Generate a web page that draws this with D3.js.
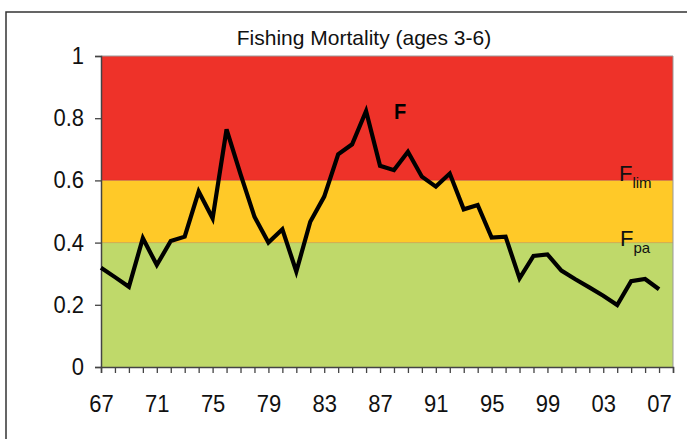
<!DOCTYPE html>
<html>
<head>
<meta charset="utf-8">
<script src="https://cdn.jsdelivr.net/npm/d3@7"></script>
<style>
  html, body { margin: 0; padding: 0; background: #fff; }
  svg { display: block; font-family: "Liberation Sans", Arial, sans-serif; }
</style>
</head>
<body>
<svg id="chart" width="687" height="439"></svg>
<script>
// ---- data ----
const years = d3.range(1967, 2008);
const fValues = [0.319, 0.289, 0.258, 0.414, 0.328, 0.405, 0.419, 0.564, 0.478, 0.764,
                 0.620, 0.483, 0.400, 0.443, 0.307, 0.467, 0.548, 0.684, 0.716, 0.823,
                 0.647, 0.633, 0.692, 0.612, 0.580, 0.622, 0.507, 0.521, 0.416, 0.419,
                 0.285, 0.357, 0.362, 0.310, 0.282, 0.256, 0.229, 0.199, 0.276, 0.283,
                 0.250];
const bandLimits = [0, 0.4, 0.6, 1.0];           // green / yellow / red bands
const bandColors = ["#BFD96A", "#FFC928", "#EE3229"];
const yTicks = [0, 0.2, 0.4, 0.6, 0.8, 1];
const xTickYears = [1967, 1971, 1975, 1979, 1983, 1987, 1991, 1995, 1999, 2003, 2007];
const title = "Fishing Mortality (ages 3-6)";

// ---- layout ----
const svg = d3.select("#chart");
const L = 101, R = 673, T = 56, B = 367;
const x = d3.scaleLinear().domain([1967, 2008]).range([L, R]);
const y = d3.scaleLinear().domain([0, 1]).range([B, T]);

// outer frame
svg.append("rect").attr("x", 6).attr("y", 12).attr("width", 700).attr("height", 460)
  .attr("fill", "#fff").attr("stroke", "#333").attr("stroke-width", 1.5);

// bands
for (let i = 0; i < bandColors.length; i++) {
  svg.append("rect")
    .attr("x", L).attr("width", R - L)
    .attr("y", y(bandLimits[i + 1])).attr("height", y(bandLimits[i]) - y(bandLimits[i + 1]))
    .attr("fill", bandColors[i]);
}
[0.4, 0.6].forEach(v => {
  svg.append("line").attr("x1", L).attr("x2", R).attr("y1", y(v)).attr("y2", y(v))
    .attr("stroke", "rgba(120,60,20,0.35)").attr("stroke-width", 0.8);
});

// plot border top / right
svg.append("path").attr("d", `M${L},${T}H${R}V${B}`).attr("fill", "none")
  .attr("stroke", "#999").attr("stroke-width", 1);

// title
svg.append("text").attr("x", 364).attr("y", 45).attr("text-anchor", "middle")
  .attr("font-size", 21).attr("fill", "#111").text(title);

// y axis
const yAxis = d3.axisLeft(y).tickValues(yTicks).tickSize(6).tickPadding(11)
  .tickFormat(d => d3.format("~g")(d));
const gy = svg.append("g").attr("transform", `translate(${L},0)`).call(yAxis);
gy.selectAll("text").attr("font-size", 22).attr("fill", "#111")
  .attr("font-family", "Liberation Sans, Arial, sans-serif")
  .attr("transform", "scale(1,1.06)");
gy.select(".domain").attr("stroke", "#444").attr("stroke-width", 1.5);
gy.selectAll(".tick line").attr("stroke", "#444").attr("stroke-width", 1.3);

// x axis
const xAxis = d3.axisBottom(x).tickValues(d3.range(1967, 2009)).tickSize(6).tickPadding(19)
  .tickFormat(d => xTickYears.includes(d) ? String(d).slice(2) : "");
const gx = svg.append("g").attr("transform", `translate(0,${B})`).call(xAxis);
gx.selectAll("text").attr("font-size", 22).attr("fill", "#111")
  .attr("font-family", "Liberation Sans, Arial, sans-serif")
  .attr("transform", "scale(1,1.1)");
gx.select(".domain").attr("stroke", "#444").attr("stroke-width", 1.5);
gx.selectAll(".tick line").attr("stroke", "#444").attr("stroke-width", 1.3);

// F line
const line = d3.line().x((d, i) => x(years[i])).y(d => y(d));
svg.append("path").datum(fValues).attr("d", line).attr("fill", "none")
  .attr("stroke", "#000").attr("stroke-width", 4.2).attr("stroke-linejoin", "miter");

// labels
svg.append("text").attr("x", 0).attr("y", 0).attr("font-size", 20)
  .attr("font-weight", "bold").attr("fill", "#000")
  .attr("transform", "translate(394,119) scale(1,1.12)").text("F");

const flim = svg.append("text").attr("x", 619).attr("y", 181).attr("font-size", 22).attr("fill", "#111");
flim.append("tspan").text("F");
flim.append("tspan").attr("dy", 7).attr("font-size", 15).text("lim");

const fpa = svg.append("text").attr("x", 620).attr("y", 246).attr("font-size", 22).attr("fill", "#111");
fpa.append("tspan").text("F");
fpa.append("tspan").attr("dy", 7).attr("font-size", 15).text("pa");
</script>
</body>
</html>
